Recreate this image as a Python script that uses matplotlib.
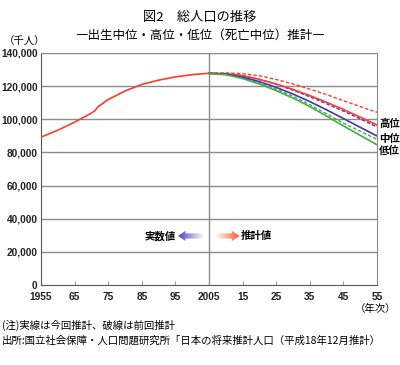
import numpy as np
import matplotlib
matplotlib.use("Agg")
import matplotlib.pyplot as plt
from matplotlib.patches import Polygon

plt.rcParams['font.family'] = ['Noto Sans CJK JP', 'DejaVu Sans']

# actual population (thousand)
yearsAct = [1955, 1960, 1965, 1970, 1971, 1972, 1975, 1980, 1985, 1990, 1995, 2000, 2005]
popAct = [89276, 93419, 98275, 103720, 105145, 107595, 111940, 117060, 121049,
          123611, 125570, 126926, 127768]

# projections, 5-yearly
yearsProj = [2005, 2010, 2015, 2020, 2025, 2030, 2035, 2040, 2045, 2050, 2055]
newHigh = [127768, 127500, 126300, 124100, 121300, 118000, 114300, 110200, 105900, 101300, 96500]
newMid = [127768, 127176, 125430, 122735, 119270, 115224, 110679, 105695, 100443, 95152, 89930]
newLow = [127768, 126900, 124600, 121300, 117300, 112800, 107700, 101900, 96000, 90300, 84600]
oldHigh = [127800, 128000, 127500, 126300, 124000, 121300, 118200, 114900, 111200, 107700, 104200]
oldMid = [127708, 127473, 126266, 124107, 121136, 117580, 113602, 109338, 104960, 100300, 95300]
oldLow = [127600, 126900, 125000, 122000, 118200, 113900, 108800, 103300, 97700, 92800, 87900]

xTicks = [1955, 1965, 1975, 1985, 1995, 2005, 2015, 2025, 2035, 2045, 2055]
xLabels = ['1955', '65', '75', '85', '95', '2005', '15', '25', '35', '45', '55']
yTicks = [0, 20000, 40000, 60000, 80000, 100000, 120000, 140000]

RED = '#ff3b2a'
BLUE = '#4b2fbf'
GREEN = '#3cb043'

fig = plt.figure(figsize=(4.0, 3.65), dpi=100)
ax = fig.add_axes([41 / 400, 80 / 365, 336 / 400, 232 / 365])

for y in yTicks[1:]:
    ax.axhline(y, color='#8c8c8c', lw=1.0, zorder=1)
ax.axvline(2005, color='#8c8c8c', lw=1.0, zorder=1)

ax.plot(yearsAct, popAct, color=RED, lw=1.2, zorder=3)

dash = (0, (2.5, 1.5))
ax.plot(yearsProj, oldHigh, color=RED, lw=1.0, ls=dash, zorder=3)
ax.plot(yearsProj, oldMid, color=BLUE, lw=1.0, ls=dash, zorder=3)
ax.plot(yearsProj, oldLow, color=GREEN, lw=1.0, ls=dash, zorder=3)
ax.plot(yearsProj, newHigh, color=RED, lw=1.2, zorder=4)
ax.plot(yearsProj, newMid, color=BLUE, lw=1.2, zorder=4)
ax.plot(yearsProj, newLow, color=GREEN, lw=1.2, zorder=4)

ax.set_xlim(1955, 2055)
ax.set_ylim(0, 140000)
ax.set_xticks(xTicks)
ax.set_xticklabels(xLabels)
ax.set_yticks(yTicks)
ax.set_yticklabels([f'{v:,}' for v in yTicks])
ax.tick_params(axis='x', direction='in', length=3, color='#9a9a9a', labelsize=7.3, pad=5)
ax.tick_params(axis='y', length=0, labelsize=7.3, pad=2.5)
for lab in ax.get_xticklabels() + ax.get_yticklabels():
    lab.set_family(['Liberation Sans', 'DejaVu Sans'])
    lab.set_fontweight('bold')
    lab.set_color('#222222')
for s in ['top', 'right']:
    ax.spines[s].set_color('#8c8c8c')
for s in ['left', 'bottom']:
    ax.spines[s].set_color('#555555')


def arrow(x0, x1, xb, yc, hh, bh, c0, c1):
    # gradient filled arrow, tip at x1
    pts = [(x0, yc - bh), (xb, yc - bh), (xb, yc - hh), (x1, yc),
           (xb, yc + hh), (xb, yc + bh), (x0, yc + bh)]
    poly = Polygon(pts, closed=True, fc='none', ec='none')
    ax.add_patch(poly)
    t = np.linspace(0, 1, 100)
    if x1 < x0:
        t = t[::-1]
    col = np.array([np.interp(t, [0, 1], [c0[i], c1[i]]) for i in range(3)]).T
    img = ax.imshow(col[np.newaxis, :, :], extent=[min(x0, x1), max(x0, x1), yc - hh, yc + hh],
                    aspect='auto', zorder=5, interpolation='bilinear')
    img.set_clip_path(poly)


purple = (0.33, 0.24, 0.75)
orange = (1.0, 0.33, 0.20)
white = (1.0, 1.0, 1.0)
arrow(2003.4, 1995.8, 1998.0, 29600, 3100, 1600, white, purple)
arrow(2006.7, 2014.1, 2011.8, 29600, 3100, 1600, white, orange)
ax.set_xlim(1955, 2055)
ax.set_ylim(0, 140000)

ax.text(1995.2, 29600, '実数値', ha='right', va='center', fontsize=7.5, fontweight='bold')
ax.text(2014.6, 29600, '推計値', ha='left', va='center', fontsize=7.5, fontweight='bold')

fig.text(0.5, 1 - 17 / 365, '図2　総人口の推移', ha='center', va='center', fontsize=9.5)
fig.text(0.5, 1 - 35 / 365, '―出生中位・高位・低位（死亡中位）推計―', ha='center', va='center', fontsize=9)
fig.text(4 / 400, 1 - 42 / 365, '（千人）', ha='left', va='center', fontsize=7.5)
fig.text(396 / 400, 1 - 309 / 365, '（年次）', ha='right', va='center', fontsize=7.5)

fig.text(379 / 400, 1 - 124 / 365, '高位', ha='left', va='center', fontsize=7.5, fontweight='bold')
fig.text(379 / 400, 1 - 139 / 365, '中位', ha='left', va='center', fontsize=7.5, fontweight='bold')
fig.text(379 / 400, 1 - 151 / 365, '低位', ha='left', va='center', fontsize=7.5, fontweight='bold')

fig.text(2 / 400, 1 - 325 / 365, '(注)実線は今回推計、破線は前回推計', ha='left', va='center', fontsize=7.5)
fig.text(2 / 400, 1 - 341 / 365, '出所:国立社会保障・人口問題研究所「日本の将来推計人口（平成18年12月推計）',
         ha='left', va='center', fontsize=7.5)

fig.savefig('out.png', dpi=100)
